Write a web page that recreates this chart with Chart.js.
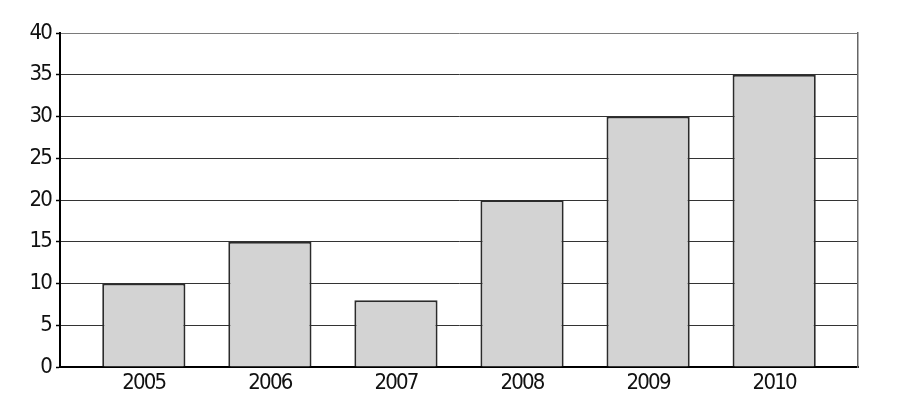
<!DOCTYPE html>
<html>
<head>
<meta charset="utf-8">
<script src="https://cdn.jsdelivr.net/npm/chart.js@4/dist/chart.umd.min.js"></script>
<style>
html,body{margin:0;padding:0;background:#fff;}
#wrap{width:902px;height:411px;}
</style>
</head>
<body>
<div id="wrap"><canvas id="c" width="902" height="411"></canvas></div>
<script>
const categories = ["2005", "2006", "2007", "2008", "2009", "2010"];
const values = [10, 15, 8, 20, 30, 35];
const yTicks = [0, 5, 10, 15, 20, 25, 30, 35, 40];

const FONT = {family: "'Liberation Sans Narrow', 'DejaVu Sans Condensed', sans-serif", size: 22};

const narrowText = {
  id: 'narrowText',
  beforeInit(chart) { chart.ctx.letterSpacing = '-1.8px'; },
  beforeUpdate(chart) { chart.ctx.letterSpacing = '-1.8px'; },
  beforeDraw(chart) { chart.ctx.letterSpacing = '-1.8px'; }
};

new Chart(document.getElementById('c'), {
  type: 'bar',
  plugins: [narrowText],
  data: {
    datasets: [{
      data: values.map((v, i) => ({x: i, y: v})),
      backgroundColor: '#d3d3d3',
      borderColor: '#2b2b2b',
      borderWidth: 2,
      borderSkipped: 'bottom',
      barPercentage: 0.66,
      categoryPercentage: 1
    }]
  },
  options: {
    responsive: false,
    animation: false,
    devicePixelRatio: 1,
    layout: {padding: {top: 33, right: 44, left: 0, bottom: 0}},
    plugins: {legend: {display: false}, tooltip: {enabled: false}},
    scales: {
      x: {
        type: 'linear',
        offset: false,
        min: -0.665,
        max: 5.665,
        afterBuildTicks: s => { s.ticks = categories.map((c, i) => ({value: i})); },
        afterFit: s => { s.height = 44; },
        ticks: {
          callback: (v) => categories[v],
          font: FONT,
          color: '#111',
          padding: -5,
          autoSkip: false,
          maxRotation: 0
        },
        grid: {display: false, offset: false},
        border: {display: true, color: '#000', width: 2}
      },
      y: {
        min: 0,
        max: 40,
        afterBuildTicks: s => { s.ticks = yTicks.map(v => ({value: v})); },
        afterFit: s => { s.width = 60; },
        ticks: {font: FONT, color: '#111', padding: 5},
        grid: {
          color: c => (c.tick && c.tick.value === 40) ? '#7a7a7a' : '#333',
          lineWidth: 1,
          tickLength: 4,
          tickColor: '#000',
          tickWidth: 1.5
        },
        border: {display: true, color: '#000', width: 2}
      },
      y2: {
        position: 'right',
        min: 0,
        max: 40,
        afterFit: s => { s.width = 0; },
        ticks: {display: false},
        grid: {display: false},
        border: {display: true, color: '#666', width: 1.5}
      }
    }
  }
});
</script>
</body>
</html>
